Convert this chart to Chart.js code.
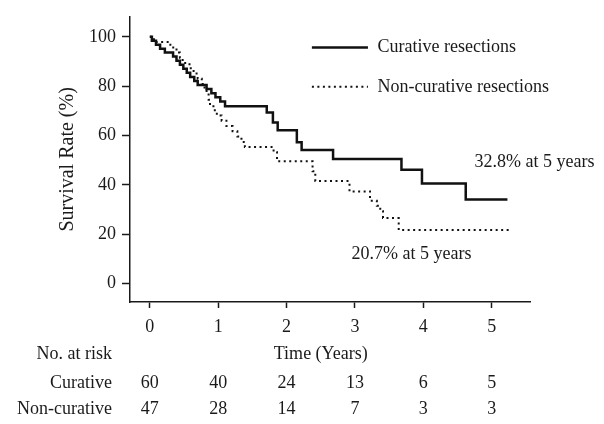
<!DOCTYPE html>
<html><head><meta charset="utf-8">
<script src="https://cdn.jsdelivr.net/npm/chart.js@4.4.1/dist/chart.umd.min.js"></script>
<style>html,body{margin:0;padding:0;background:#fff}#wrap{width:604px;height:424px;position:relative}</style>
</head><body><div id="wrap"><canvas id="c" width="604" height="424"></canvas></div>
<script>
// ---- data ----
const curativeTimes    = [0, 0.03, 0.09, 0.15, 0.22, 0.34, 0.39, 0.44, 0.49, 0.54, 0.59, 0.65, 0.70, 0.83, 0.90, 0.96, 1.03, 1.10, 1.71, 1.80, 1.87, 2.15, 2.22, 2.68, 3.68, 3.98, 4.62, 5.23];
const curativeSurvival = [100, 98.4, 96.8, 95.2, 93.6, 92.0, 90.3, 88.7, 87.0, 85.4, 83.7, 82.1, 80.5, 78.8, 77.1, 75.5, 73.8, 71.8, 69.3, 65.3, 62.1, 57.3, 54.1, 50.5, 46.1, 40.5, 34.0, 34.0];
const nonCurativeTimes    = [0, 0.06, 0.30, 0.39, 0.44, 0.48, 0.58, 0.64, 0.70, 0.76, 0.80, 0.83, 0.86, 0.88, 0.93, 0.98, 1.05, 1.12, 1.21, 1.28, 1.34, 1.39, 1.81, 1.86, 2.38, 2.42, 2.92, 3.22, 3.32, 3.37, 3.41, 3.64, 5.26];
const nonCurativeSurvival = [100, 97.9, 95.7, 93.6, 91.5, 89.4, 87.2, 85.1, 83.0, 80.9, 78.7, 76.6, 74.5, 72.3, 70.2, 68.1, 66.0, 63.8, 61.7, 59.6, 57.4, 55.3, 53.2, 49.5, 45.5, 41.5, 37.3, 33.5, 31.5, 29.3, 26.5, 21.7, 21.7];
const seriesLabels = ['Curative resections', 'Non-curative resections'];
const xTickValues = [0, 1, 2, 3, 4, 5];
const yTickValues = [0, 20, 40, 60, 80, 100];
const riskTimes = [0, 1, 2, 3, 4, 5];
const riskCurative = [60, 40, 24, 13, 6, 5];
const riskNonCurative = [47, 28, 14, 7, 3, 3];
const riskRowLabels = ['Curative', 'Non-curative'];
const annotationTexts = ['32.8% at 5 years', '20.7% at 5 years'];
const xTitle = 'Time (Years)';
const yTitle = 'Survival Rate (%)';
const riskTitle = 'No. at risk';

// ---- styling ----
const FONT = '"Liberation Serif", "Times New Roman", serif';
const FS = 18;
const INK = '#1a1a1a';

const toPts = (xs, ys) => xs.map((x, i) => ({x, y: ys[i]}));

const extras = {
  id: 'extras',
  afterDraw(chart) {
    const {ctx, scales: {x, y}} = chart;
    ctx.save();
    ctx.fillStyle = INK;
    ctx.font = FS + 'px ' + FONT;
    ctx.textBaseline = 'middle';
    // legend inside plot
    const legendRows = [95.7, 79.7];
    chart.data.datasets.forEach((ds, i) => {
      const yy = y.getPixelForValue(legendRows[i]);
      ctx.save();
      ctx.strokeStyle = ds.borderColor;
      ctx.lineWidth = ds.borderWidth;
      ctx.setLineDash(ds.borderDash || []);
      ctx.beginPath();
      ctx.moveTo(x.getPixelForValue(2.37), yy);
      ctx.lineTo(x.getPixelForValue(3.19), yy);
      ctx.stroke();
      ctx.restore();
      ctx.textAlign = 'left';
      ctx.fillText(seriesLabels[i], x.getPixelForValue(3.33), yy);
    });
    // annotations
    ctx.textAlign = 'left';
    ctx.fillText(annotationTexts[0], x.getPixelForValue(4.75), y.getPixelForValue(49.3));
    ctx.fillText(annotationTexts[1], x.getPixelForValue(2.95), y.getPixelForValue(11.8));
    // x title & risk table
    const titleY = 354;
    ctx.textAlign = 'center';
    ctx.fillText(xTitle, x.getPixelForValue(2.5), titleY);
    ctx.textAlign = 'right';
    ctx.fillText(riskTitle, 112, titleY);
    const rows = [riskCurative, riskNonCurative];
    const rowY = [383, 409];
    rows.forEach((vals, r) => {
      ctx.textAlign = 'right';
      ctx.fillText(riskRowLabels[r], 112, rowY[r]);
      ctx.textAlign = 'center';
      vals.forEach((v, i) => ctx.fillText(String(v), x.getPixelForValue(riskTimes[i]), rowY[r]));
    });
    ctx.restore();
  }
};

new Chart(document.getElementById('c'), {
  type: 'line',
  data: {
    datasets: [
      {label: seriesLabels[0], data: toPts(curativeTimes, curativeSurvival), stepped: 'before',
       borderColor: '#111', borderWidth: 2.5, pointRadius: 0, fill: false},
      {label: seriesLabels[1], data: toPts(nonCurativeTimes, nonCurativeSurvival), stepped: 'before',
       borderColor: '#111', borderWidth: 2, borderDash: [2, 3.5], pointRadius: 0, fill: false}
    ]
  },
  options: {
    responsive: false,
    animation: false,
    devicePixelRatio: 1,
    layout: {padding: {left: 0, top: 13, right: 74, bottom: 0}},
    plugins: {legend: {display: false}, tooltip: {enabled: false}},
    scales: {
      x: {
        type: 'linear', min: -0.29, max: 5.56,
        afterBuildTicks: s => { s.ticks = xTickValues.map(v => ({value: v})); },
        afterFit: s => { s.height = 122; },
        ticks: {color: INK, font: {family: FONT, size: FS}, padding: 8, maxRotation: 0},
        grid: {drawOnChartArea: false, drawTicks: true, tickLength: 6, color: INK, tickWidth: 1.5},
        border: {display: true, color: INK, width: 1.5}
      },
      y: {
        type: 'linear', min: -7.5, max: 108.1,
        afterBuildTicks: s => { s.ticks = yTickValues.map(v => ({value: v})); },
        afterFit: s => { s.width = 130; },
        ticks: {color: INK, font: {family: FONT, size: FS}, padding: 6},
        grid: {drawOnChartArea: false, drawTicks: true, tickLength: 8, color: INK, tickWidth: 1.5},
        border: {display: true, color: INK, width: 1.5},
        title: {display: true, text: yTitle, color: INK, font: {family: FONT, size: 20}, padding: {top: 56, bottom: 0}}
      }
    }
  },
  plugins: [extras]
});
</script></body></html>
